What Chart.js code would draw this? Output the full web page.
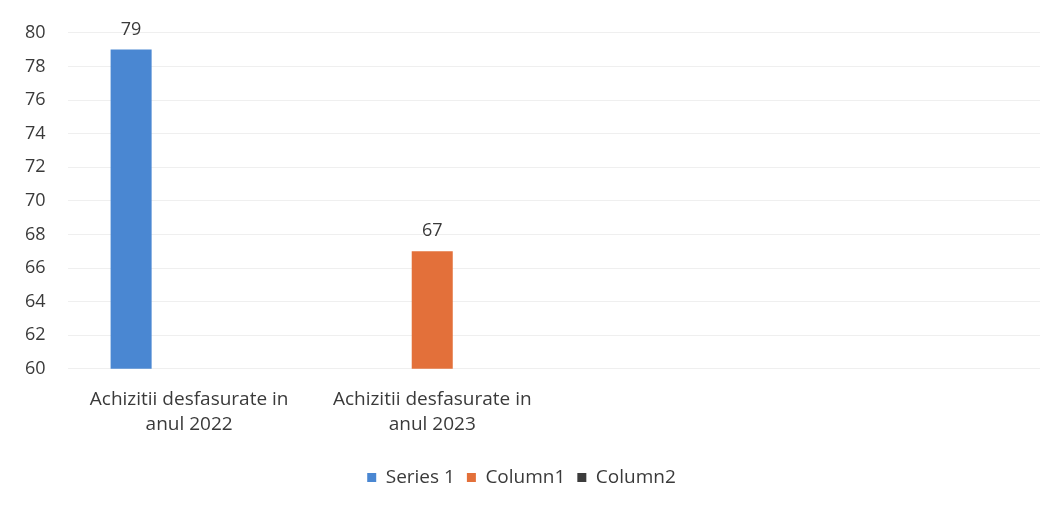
<!DOCTYPE html>
<html>
<head>
<meta charset="utf-8">
<script src="https://cdn.jsdelivr.net/npm/chart.js@4/dist/chart.umd.min.js"></script>
<style>
  html, body { margin: 0; padding: 0; background: #fff; }
  #wrap { width: 1057px; height: 505px; position: relative; }
</style>
</head>
<body>
<div id="wrap"><canvas id="chart"></canvas></div>
<script>
// categories (last two slots are empty in the workbook)
const CATEGORIES = [
  ["Achizitii desfasurate in", "anul 2022"],
  ["Achizitii desfasurate in", "anul 2023"],
  "",
  "",
];
const SERIES_NAMES = ["Series 1", "Column1", "Column2"];
const SERIES_1 = [79, null, null, null];
const COLUMN_1 = [null, 67, null, null];
const COLUMN_2 = [null, null, null, null];
const Y_MIN = 60, Y_MAX = 80, Y_STEP = 2;

const BLUE = "#4a87d2";
const ORANGE = "#e3703a";
const DARK = "#3c3c3c";
const TEXT = "#3a3a3a";
const FONT = "'Open Sans', 'Noto Sans', sans-serif";
const SIZE = 19;

// values printed above each bar
const barValues = {
  id: "barValues",
  afterDatasetsDraw(chart) {
    const ctx = chart.ctx;
    ctx.save();
    ctx.font = "18px " + FONT;
    ctx.fillStyle = TEXT;
    ctx.textAlign = "center";
    ctx.textBaseline = "bottom";
    chart.data.datasets.forEach((ds, i) => {
      const meta = chart.getDatasetMeta(i);
      meta.data.forEach((bar, j) => {
        const v = ds.data[j];
        if (v == null) return;
        ctx.fillText(String(v), bar.x, bar.y - 11);
      });
    });
    ctx.restore();
  },
};

new Chart(document.getElementById("chart").getContext("2d"), {
  type: "bar",
  data: {
    labels: CATEGORIES,
    datasets: [
      { label: SERIES_NAMES[0], data: SERIES_1, backgroundColor: BLUE },
      { label: SERIES_NAMES[1], data: COLUMN_1, backgroundColor: ORANGE },
      { label: SERIES_NAMES[2], data: COLUMN_2, backgroundColor: DARK },
    ],
  },
  options: {
    responsive: true, maintainAspectRatio: false, animation: false,
    datasets: { bar: { categoryPercentage: 0.716, barPercentage: 0.707 } },
    layout: { padding: { top: 23, left: 3, right: 17, bottom: 8 } },
    plugins: {
      tooltip: { enabled: false },
      legend: {
        position: "bottom",
        labels: {
          color: TEXT, boxWidth: 9, boxHeight: 9, padding: 12,
          font: { family: FONT, size: SIZE },
        },
      },
    },
    scales: {
      x: {
        grid: { display: false },
        border: { display: false },
        ticks: { color: TEXT, padding: 10, maxRotation: 0, font: { family: FONT, size: SIZE, lineHeight: 1.32 } },
        afterFit(scale) { scale.height += 9; },
      },
      y: {
        min: Y_MIN, max: Y_MAX,
        grid: { color: "#efefef", drawTicks: false },
        border: { display: false },
        ticks: { stepSize: Y_STEP, color: TEXT, padding: 22, font: { family: FONT, size: SIZE - 1 } },
      },
    },
  },
  plugins: [barValues],
});
</script>
</body>
</html>
